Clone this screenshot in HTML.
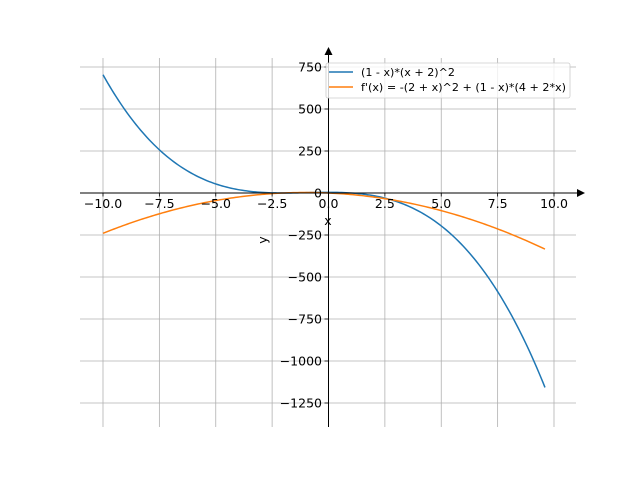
<!DOCTYPE html>
<html><head><style>body{margin:0;background:#fff}svg{display:block}text{font-family:"DejaVu Sans","Liberation Sans",sans-serif}</style></head>
<body>
<svg id="s" width="640" height="480" viewBox="0 0 640 480" xmlns="http://www.w3.org/2000/svg">
<g id="grid" stroke="#b0b0b0" stroke-width="0.8"></g>
<g id="curves" fill="none" stroke-width="1.5"></g>
<g id="axes"></g>
<g>
<rect x="326" y="63" width="244" height="35" fill="#fff" fill-opacity="0.8" stroke="#ccc" stroke-width="0.8" rx="2"/>
<line x1="329" y1="72" x2="353" y2="72" stroke="#1f77b4" stroke-width="1.5"/>
<line x1="329" y1="87" x2="353" y2="87" stroke="#ff7f0e" stroke-width="1.5"/>
<text x="361" y="76" font-size="10.9" textLength="94" lengthAdjust="spacingAndGlyphs">(1 - x)*(x + 2)^2</text>
<text x="361" y="91" font-size="10.9" textLength="205" lengthAdjust="spacingAndGlyphs">f'(x) = -(2 + x)^2 + (1 - x)*(4 + 2*x)</text>
</g>
</svg>
<script>
var X=function(x){return 328.5+x*22.55},Y=function(y){return 193-y*0.168};
var g=document.getElementById('grid'),a=document.getElementById('axes'),c=document.getElementById('curves'),h='',ah='';
var xt=[-10,-7.5,-5,-2.5,0,2.5,5,7.5,10];
xt.forEach(function(t){var px=X(t);h+='<line x1="'+px+'" y1="58" x2="'+px+'" y2="427"/>';
ah+='<line x1="'+px+'" y1="193" x2="'+px+'" y2="196.5" stroke="#000" stroke-width="0.8"/>';
ah+='<text x="'+px+'" y="208" font-size="12.5" text-anchor="middle">'+(t<0?'\u2212':'')+Math.abs(t).toFixed(1)+'</text>';});
[750,500,250,0,-250,-500,-750,-1000,-1250].forEach(function(t){var py=Y(t);h+='<line x1="80" y1="'+py+'" x2="576" y2="'+py+'"/>';
ah+='<line x1="324.5" y1="'+py+'" x2="328.5" y2="'+py+'" stroke="#000" stroke-width="0.8"/>';
ah+='<text x="322" y="'+(py+4.5)+'" font-size="12.5" text-anchor="end">'+(t<0?'\u2212':'')+Math.abs(t)+'</text>';});
g.innerHTML=h;
ah+='<line x1="80" y1="193" x2="580" y2="193" stroke="#000" stroke-width="1"/><polygon points="585,193 577,189 577,197"/>';
ah+='<line x1="328.5" y1="427" x2="328.5" y2="53" stroke="#000" stroke-width="1"/><polygon points="328.5,47 324.5,55 332.5,55"/>';
ah+='<text x="328" y="225" font-size="12.5" text-anchor="middle">x</text>';
ah+='<text transform="translate(267,240) rotate(-90)" font-size="12.5" text-anchor="middle">y</text>';
a.innerHTML=ah;
function path(f,col){var d='';for(var i=0;i<=200;i++){var x=-10+i*19.6/200;d+=(i?'L':'M')+X(x).toFixed(2)+','+Y(f(x)).toFixed(2);}return '<path d="'+d+'" stroke="'+col+'"/>';}
c.innerHTML=path(function(x){return (1-x)*(x+2)*(x+2)},'#1f77b4')+path(function(x){return -(2+x)*(2+x)+(1-x)*(4+2*x)},'#ff7f0e');
</script>
</body></html>
